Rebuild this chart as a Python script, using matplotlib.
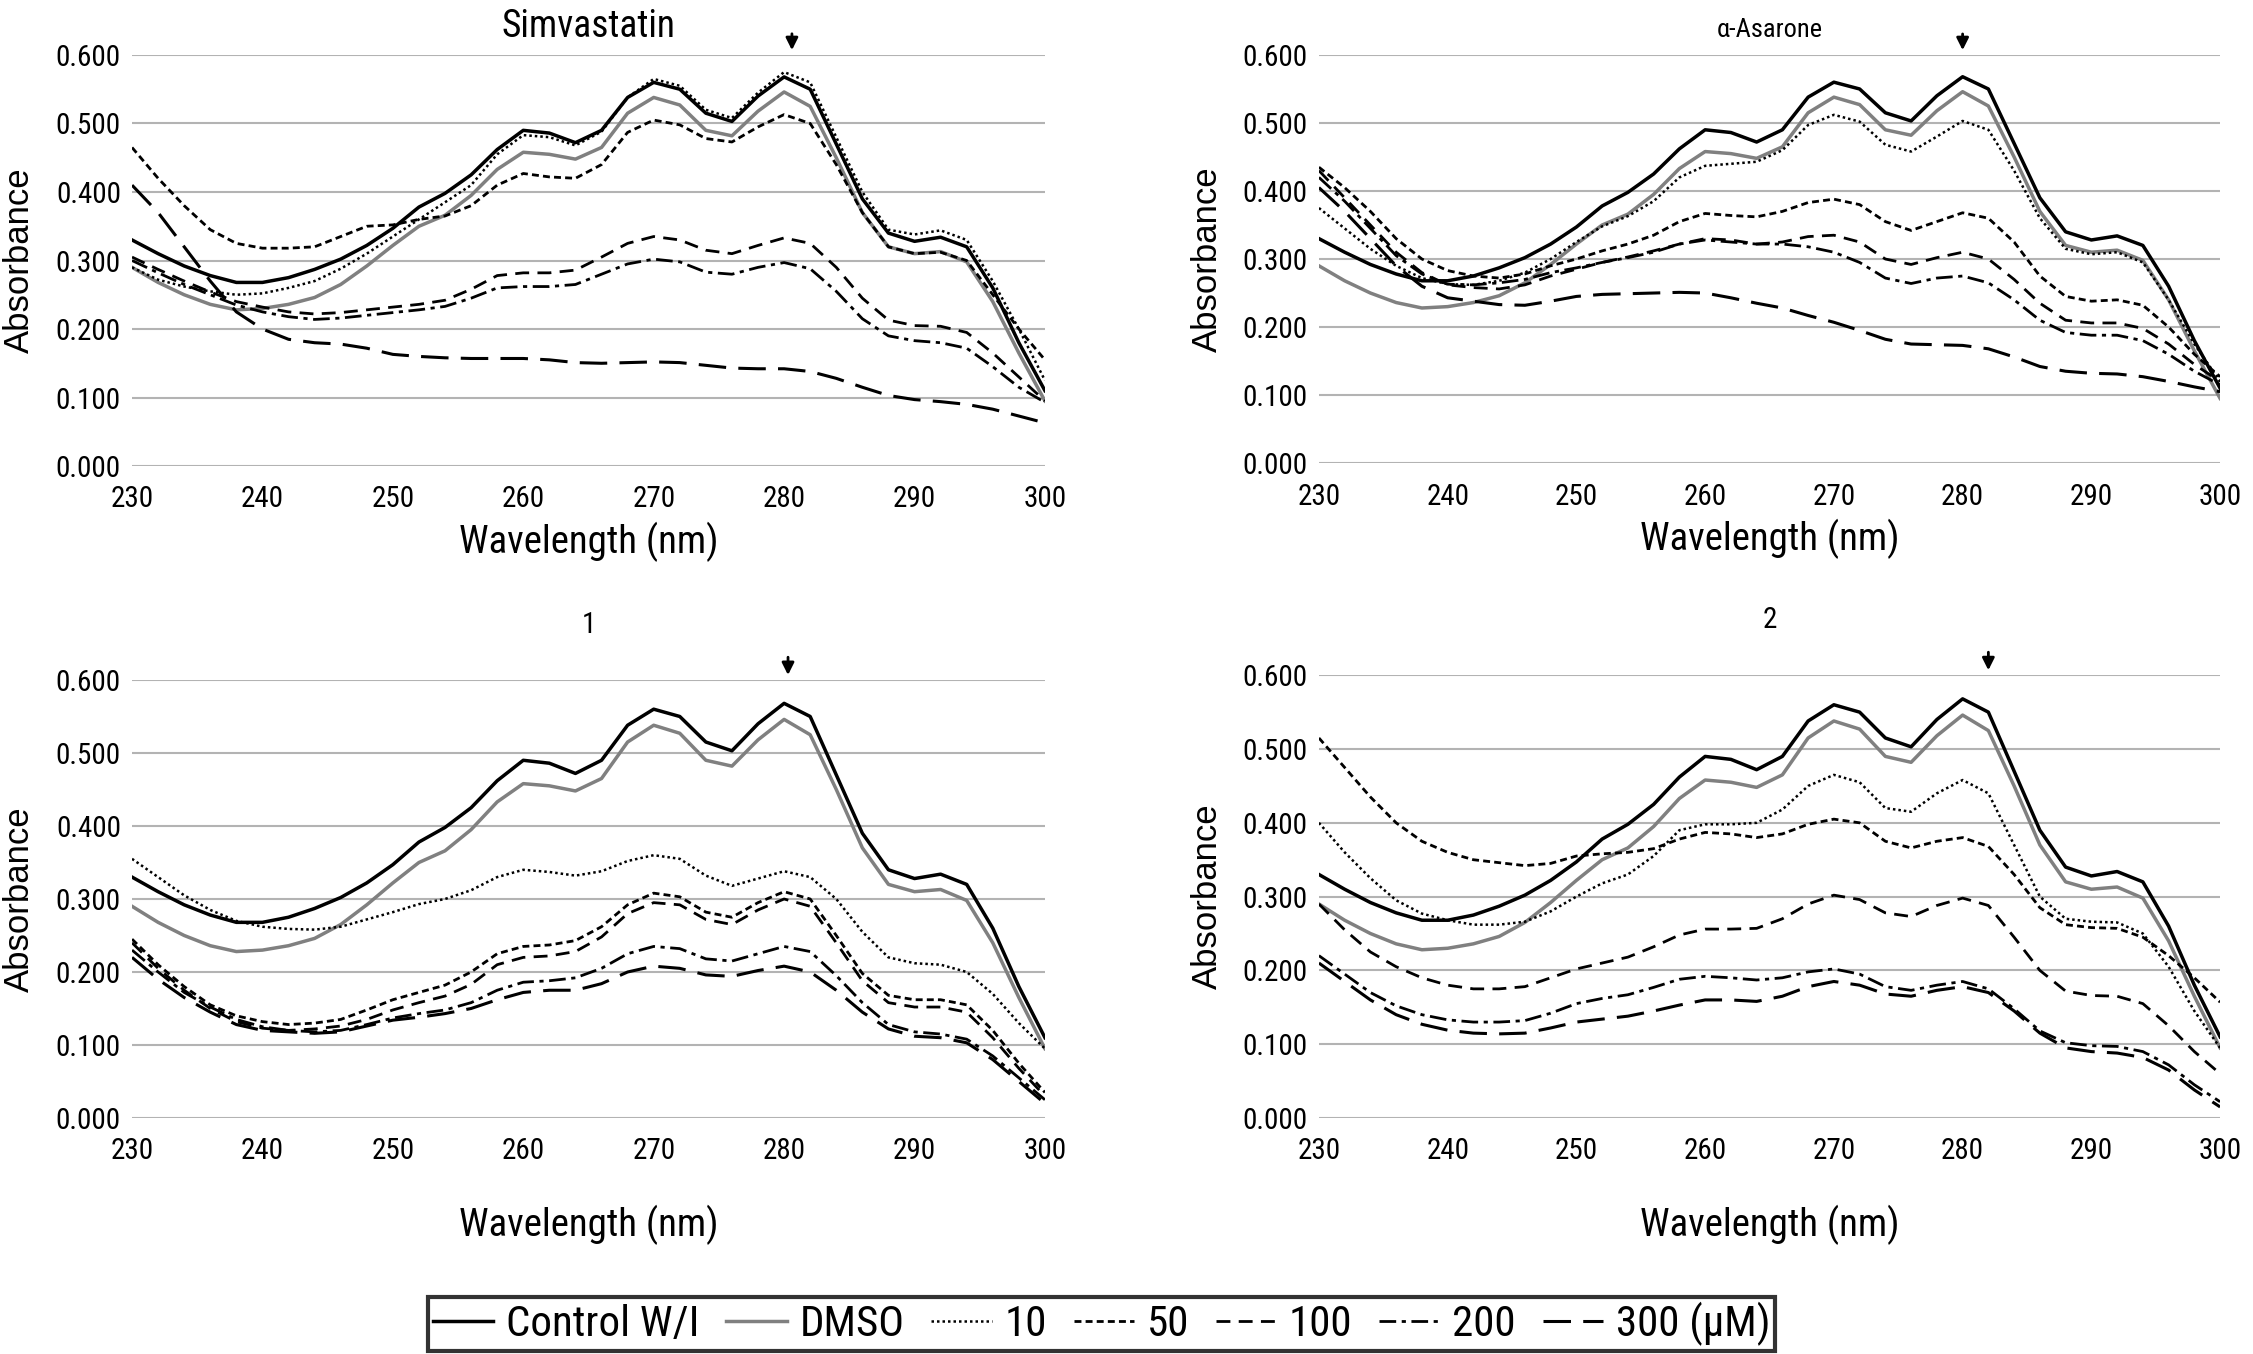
import matplotlib.pyplot as plt
import matplotlib.font_manager as fm

# wavelengths (nm), every 2 nm
wl = [230, 232, 234, 236, 238, 240, 242, 244, 246, 248, 250, 252, 254, 256, 258, 260, 262, 264,
      266, 268, 270, 272, 274, 276, 278, 280, 282, 284, 286, 288, 290, 292, 294, 296, 298, 300]

# controls (same in every panel)
control = [0.330, 0.310, 0.292, 0.278, 0.268, 0.268, 0.275, 0.287, 0.302, 0.322, 0.347, 0.378,
           0.398, 0.425, 0.462, 0.490, 0.486, 0.472, 0.490, 0.538, 0.560, 0.550, 0.515, 0.503,
           0.540, 0.568, 0.550, 0.470, 0.390, 0.340, 0.328, 0.334, 0.320, 0.260, 0.180, 0.110]
dmso = [0.290, 0.268, 0.250, 0.236, 0.228, 0.230, 0.236, 0.246, 0.265, 0.292, 0.322, 0.350,
        0.366, 0.395, 0.433, 0.458, 0.455, 0.448, 0.465, 0.515, 0.538, 0.527, 0.490, 0.482,
        0.518, 0.546, 0.525, 0.450, 0.370, 0.320, 0.310, 0.313, 0.298, 0.240, 0.165, 0.095]

# Simvastatin
simva_10 = [0.290, 0.272, 0.262, 0.255, 0.250, 0.252, 0.260, 0.270, 0.288, 0.310, 0.335, 0.360,
            0.385, 0.410, 0.455, 0.483, 0.480, 0.468, 0.488, 0.538, 0.565, 0.555, 0.520, 0.508,
            0.545, 0.575, 0.560, 0.480, 0.400, 0.345, 0.338, 0.344, 0.330, 0.270, 0.200, 0.125]
simva_50 = [0.465, 0.420, 0.380, 0.345, 0.325, 0.318, 0.318, 0.320, 0.335, 0.350, 0.352, 0.360,
            0.365, 0.380, 0.410, 0.427, 0.422, 0.420, 0.440, 0.487, 0.505, 0.498, 0.478, 0.473,
            0.495, 0.513, 0.500, 0.440, 0.370, 0.320, 0.310, 0.312, 0.300, 0.250, 0.200, 0.155]
simva_100 = [0.305, 0.287, 0.270, 0.254, 0.240, 0.232, 0.225, 0.222, 0.224, 0.228, 0.232, 0.236,
             0.242, 0.258, 0.278, 0.282, 0.282, 0.286, 0.305, 0.325, 0.335, 0.330, 0.315, 0.310,
             0.322, 0.333, 0.325, 0.290, 0.245, 0.213, 0.205, 0.204, 0.195, 0.165, 0.130, 0.095]
simva_200 = [0.300, 0.282, 0.265, 0.250, 0.235, 0.225, 0.218, 0.214, 0.216, 0.220, 0.224, 0.228,
             0.233, 0.245, 0.260, 0.262, 0.262, 0.265, 0.280, 0.295, 0.302, 0.298, 0.283, 0.280,
             0.290, 0.297, 0.288, 0.255, 0.215, 0.190, 0.183, 0.180, 0.172, 0.145, 0.115, 0.093]
simva_300 = [0.410, 0.370, 0.320, 0.270, 0.225, 0.200, 0.185, 0.180, 0.178, 0.172, 0.163, 0.160,
             0.158, 0.157, 0.157, 0.157, 0.155, 0.151, 0.150, 0.151, 0.152, 0.151, 0.147, 0.143,
             0.142, 0.142, 0.138, 0.128, 0.115, 0.103, 0.097, 0.094, 0.090, 0.083, 0.073, 0.063]

# alpha-Asarone
asar_10 = [0.375, 0.345, 0.315, 0.290, 0.272, 0.263, 0.262, 0.268, 0.280, 0.300, 0.325, 0.348,
           0.363, 0.385, 0.420, 0.437, 0.440, 0.443, 0.460, 0.497, 0.512, 0.502, 0.468, 0.458,
           0.480, 0.503, 0.490, 0.430, 0.360, 0.315, 0.307, 0.310, 0.295, 0.240, 0.175, 0.120]
asar_50 = [0.435, 0.405, 0.370, 0.330, 0.300, 0.283, 0.275, 0.272, 0.278, 0.290, 0.300, 0.312,
           0.322, 0.335, 0.355, 0.367, 0.364, 0.362, 0.370, 0.383, 0.388, 0.380, 0.355, 0.342,
           0.355, 0.368, 0.360, 0.325, 0.275, 0.245, 0.238, 0.240, 0.232, 0.200, 0.160, 0.127]
asar_100 = [0.430, 0.390, 0.350, 0.310, 0.280, 0.262, 0.258, 0.256, 0.262, 0.275, 0.285, 0.295,
            0.303, 0.312, 0.322, 0.330, 0.328, 0.322, 0.325, 0.333, 0.335, 0.325, 0.300, 0.292,
            0.302, 0.310, 0.300, 0.270, 0.235, 0.210, 0.206, 0.206, 0.198, 0.175, 0.145, 0.120]
asar_200 = [0.420, 0.385, 0.345, 0.305, 0.278, 0.263, 0.262, 0.265, 0.270, 0.280, 0.287, 0.295,
            0.302, 0.310, 0.322, 0.328, 0.325, 0.322, 0.322, 0.318, 0.310, 0.295, 0.272, 0.264,
            0.272, 0.275, 0.265, 0.240, 0.210, 0.192, 0.188, 0.188, 0.180, 0.160, 0.135, 0.115]
asar_300 = [0.405, 0.370, 0.330, 0.290, 0.260, 0.243, 0.238, 0.233, 0.232, 0.238, 0.245, 0.248,
            0.249, 0.250, 0.251, 0.250, 0.243, 0.235, 0.228, 0.217, 0.207, 0.195, 0.182, 0.175,
            0.174, 0.173, 0.168, 0.156, 0.142, 0.135, 0.132, 0.131, 0.127, 0.120, 0.112, 0.105]

# compound 1
c1_10 = [0.355, 0.330, 0.305, 0.285, 0.270, 0.262, 0.259, 0.258, 0.262, 0.272, 0.282, 0.293,
         0.300, 0.312, 0.330, 0.340, 0.337, 0.332, 0.338, 0.352, 0.360, 0.355, 0.332, 0.318,
         0.328, 0.338, 0.330, 0.300, 0.255, 0.220, 0.212, 0.210, 0.200, 0.170, 0.130, 0.095]
c1_50 = [0.245, 0.210, 0.180, 0.155, 0.140, 0.132, 0.128, 0.130, 0.135, 0.148, 0.162, 0.172,
         0.182, 0.200, 0.225, 0.235, 0.237, 0.243, 0.262, 0.292, 0.308, 0.303, 0.282, 0.275,
         0.295, 0.310, 0.300, 0.250, 0.198, 0.168, 0.162, 0.162, 0.155, 0.120, 0.075, 0.035]
c1_100 = [0.240, 0.205, 0.175, 0.150, 0.132, 0.123, 0.120, 0.122, 0.126, 0.135, 0.148, 0.158,
          0.167, 0.183, 0.210, 0.220, 0.222, 0.228, 0.248, 0.280, 0.295, 0.292, 0.272, 0.265,
          0.285, 0.300, 0.290, 0.240, 0.188, 0.158, 0.152, 0.152, 0.145, 0.110, 0.068, 0.030]
c1_200 = [0.230, 0.200, 0.172, 0.152, 0.135, 0.125, 0.120, 0.118, 0.120, 0.128, 0.137, 0.143,
          0.148, 0.158, 0.175, 0.186, 0.188, 0.192, 0.205, 0.225, 0.235, 0.232, 0.218, 0.215,
          0.225, 0.235, 0.228, 0.195, 0.158, 0.128, 0.118, 0.115, 0.108, 0.085, 0.055, 0.025]
c1_300 = [0.220, 0.190, 0.165, 0.145, 0.128, 0.120, 0.118, 0.116, 0.118, 0.126, 0.134, 0.138,
          0.143, 0.150, 0.162, 0.172, 0.175, 0.175, 0.184, 0.200, 0.208, 0.205, 0.196, 0.194,
          0.202, 0.208, 0.200, 0.175, 0.145, 0.122, 0.112, 0.110, 0.103, 0.080, 0.050, 0.020]

# compound 2
c2_10 = [0.400, 0.360, 0.325, 0.295, 0.277, 0.268, 0.262, 0.262, 0.266, 0.280, 0.300, 0.318,
         0.330, 0.355, 0.390, 0.398, 0.398, 0.400, 0.418, 0.450, 0.465, 0.455, 0.420, 0.415,
         0.440, 0.458, 0.440, 0.370, 0.300, 0.270, 0.266, 0.265, 0.250, 0.205, 0.145, 0.095]
c2_50 = [0.515, 0.475, 0.435, 0.400, 0.375, 0.360, 0.350, 0.346, 0.342, 0.345, 0.355, 0.358,
         0.360, 0.365, 0.378, 0.387, 0.385, 0.380, 0.385, 0.398, 0.405, 0.400, 0.375, 0.366,
         0.375, 0.380, 0.368, 0.330, 0.285, 0.262, 0.258, 0.257, 0.245, 0.220, 0.190, 0.157]
c2_100 = [0.290, 0.255, 0.225, 0.205, 0.190, 0.180, 0.175, 0.175, 0.178, 0.190, 0.202, 0.210,
          0.218, 0.232, 0.248, 0.256, 0.256, 0.257, 0.270, 0.290, 0.302, 0.296, 0.278, 0.273,
          0.288, 0.298, 0.288, 0.245, 0.200, 0.172, 0.166, 0.165, 0.155, 0.125, 0.090, 0.060]
c2_200 = [0.220, 0.195, 0.170, 0.152, 0.140, 0.133, 0.130, 0.130, 0.132, 0.142, 0.155, 0.162,
          0.167, 0.177, 0.188, 0.192, 0.190, 0.187, 0.190, 0.198, 0.202, 0.195, 0.178, 0.173,
          0.180, 0.185, 0.175, 0.148, 0.118, 0.102, 0.098, 0.097, 0.090, 0.072, 0.045, 0.022]
c2_300 = [0.210, 0.185, 0.160, 0.140, 0.127, 0.119, 0.115, 0.114, 0.115, 0.122, 0.130, 0.134,
          0.138, 0.145, 0.153, 0.160, 0.160, 0.158, 0.165, 0.178, 0.185, 0.180, 0.168, 0.165,
          0.173, 0.178, 0.170, 0.145, 0.115, 0.095, 0.090, 0.088, 0.082, 0.065, 0.038, 0.015]

titles = ['Simvastatin', '\u03b1-Asarone', '1', '2']
title_sizes = [27, 19, 21, 21]
arrow_x = [280.6, 280.0, 280.3, 282.0]
labels = ['Control W/I', 'DMSO', '10', '50', '100', '200', '300 (\u03bcM)']

panels = [
    [simva_10, simva_50, simva_100, simva_200, simva_300],
    [asar_10, asar_50, asar_100, asar_200, asar_300],
    [c1_10, c1_50, c1_100, c1_200, c1_300],
    [c2_10, c2_50, c2_100, c2_200, c2_300],
]

styles = [
    dict(color='black', lw=2.5, ls='-'),
    dict(color='#808080', lw=2.5, ls='-'),
    dict(color='black', lw=1.8, ls=(0, (1, 1.2))),
    dict(color='black', lw=2.0, ls=(0, (2.5, 1.5))),
    dict(color='black', lw=2.0, ls=(0, (5, 3))),
    dict(color='black', lw=2.0, ls=(0, (6, 2, 1.5, 2))),
    dict(color='black', lw=2.2, ls=(0, (9, 4))),
]

names = {f.name for f in fm.fontManager.ttflist}
main_font = 'Liberation Sans'
for cand in ['Roboto Condensed', 'Open Sans Condensed', 'Liberation Sans Narrow', 'Liberation Sans']:
    if cand in names:
        main_font = cand
        break
plt.rcParams['font.family'] = [main_font, 'DejaVu Sans']

fig = plt.figure(figsize=(22.53, 13.54), dpi=100)
positions = [
    [0.0586, 0.6558, 0.4052, 0.3036],
    [0.5854, 0.6580, 0.4000, 0.3014],
    [0.0586, 0.1743, 0.4052, 0.3235],
    [0.5854, 0.1743, 0.4000, 0.3270],
]

handles = []
for i, pos in enumerate(positions):
    ax = fig.add_axes(pos)
    series = [control, dmso] + panels[i]
    lines = []
    for s, st in zip(series, styles):
        ln, = ax.plot(wl, s, solid_joinstyle='round', dash_joinstyle='round', **st)
        lines.append(ln)
    if i == 0:
        handles = lines
    ax.set_xlim(230, 300)
    ax.set_ylim(0, 0.6)
    ax.set_xticks([230, 240, 250, 260, 270, 280, 290, 300])
    ax.set_yticks([0, 0.1, 0.2, 0.3, 0.4, 0.5, 0.6])
    ax.set_yticklabels(['%.3f' % v for v in ax.get_yticks()])
    ax.grid(axis='y', color='#b3b3b3', lw=1.5)
    ax.set_axisbelow(True)
    for sp in ax.spines.values():
        sp.set_visible(False)
    ax.tick_params(length=0, labelsize=21)
    ax.tick_params(axis='x', pad=14)
    ax.tick_params(axis='y', pad=8)
    ax.set_ylabel('Absorbance', fontsize=25, family='Liberation Sans')
    ax.yaxis.set_label_coords(-0.105, 0.5)
    if i < 2:
        ax.set_xlabel('Wavelength (nm)', fontsize=28, labelpad=6)
        ax.set_title(titles[i], fontsize=title_sizes[i], pad=13)
    else:
        ax.set_xlabel('Wavelength (nm)', fontsize=28, labelpad=28)
        ax.set_title(titles[i], fontsize=title_sizes[i], pad=34)
    ax.annotate('', xy=(arrow_x[i], 0.603), xytext=(arrow_x[i], 0.635),
                xycoords='data', textcoords='data', annotation_clip=False,
                arrowprops=dict(arrowstyle='-|>', color='black', lw=2, mutation_scale=18))

leg = fig.legend(handles, labels, loc='center', bbox_to_anchor=(0.489, 0.022), ncol=7,
                 fontsize=31, frameon=True, fancybox=False, edgecolor='black',
                 handlelength=1.4, handletextpad=0.3, columnspacing=0.62,
                 borderpad=0.12, borderaxespad=0)
leg.get_frame().set_linewidth(3)

fig.savefig('out.png', dpi=100)
